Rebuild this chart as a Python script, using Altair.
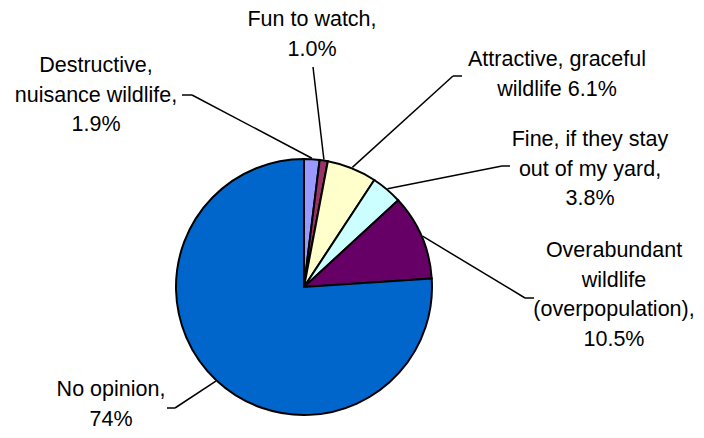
import altair as alt
import pandas as pd

# ---- data ----
categories = [
    "Destructive, nuisance wildlife",
    "Fun to watch",
    "Attractive, graceful wildlife",
    "Fine, if they stay out of my yard",
    "Overabundant wildlife (overpopulation)",
    "No opinion",
]
values = [1.9, 1.0, 6.1, 3.8, 10.5, 74.0]
labels = [
    "Destructive,\nnuisance wildlife,\n1.9%",
    "Fun to watch,\n1.0%",
    "Attractive, graceful\nwildlife 6.1%",
    "Fine, if they stay\nout of my yard,\n3.8%",
    "Overabundant\nwildlife\n(overpopulation),\n10.5%",
    "No opinion,\n74%",
]
colors = ["#9999FF", "#993366", "#FFFFCC", "#CCFFFF", "#660066", "#0066CC"]

# ---- layout (page pixel coordinates; label y = first line centre) ----
label_x = [96, 312, 557, 590, 614, 111]
label_y = [66, 20, 60, 140, 251, 390]
label_lh = 29.5
elbow_x = [192, 313, 453, 502, 525, 175]
elbow_y = [95, 67, 76, 166, 298, 408]
tick_x = [182, 313, 462, 510, 534, 167]
tick_y = [95, 67, 76, 166, 298, 408]
CX, CY, R = 304, 287, 128
W, H = 688, 422
M = 8

df = pd.DataFrame({
    "cat": categories, "value": values, "idx": list(range(len(values))),
    "label": labels, "lx": label_x, "ly": label_y,
    "ex": elbow_x, "ey": elbow_y, "tx": tick_x, "ty": tick_y,
})

xs = alt.Scale(domain=[M, M + W], range=[0, W])
ys = alt.Scale(domain=[M, M + H], range=[0, H])

pie = alt.Chart(df).mark_arc(stroke="black", strokeWidth=2).encode(
    theta=alt.Theta("value:Q", stack=True),
    color=alt.Color("cat:N", scale=alt.Scale(domain=categories, range=colors), legend=None),
    order=alt.Order("idx:Q", sort="ascending"),
    x=alt.value(CX - M), y=alt.value(CY - M), radius=alt.value(R),
)

base = alt.Chart(df).transform_joinaggregate(
    total="sum(value)"
).transform_window(
    cum="sum(value)", sort=[alt.SortField("idx", order="ascending")], frame=[None, 0]
).transform_calculate(
    mid="(datum.cum - datum.value/2) / datum.total * 2 * PI",
).transform_calculate(
    px=f"{CX} + {R + 1} * sin(datum.mid)",
    py=f"{CY} - {R + 1} * cos(datum.mid)",
)

lead1 = base.mark_rule(color="black", strokeWidth=1.5).encode(
    x=alt.X("px:Q", scale=xs, axis=None),
    y=alt.Y("py:Q", scale=ys, axis=None),
    x2="ex:Q", y2="ey:Q",
)
lead2 = base.mark_rule(color="black", strokeWidth=1.5).encode(
    x=alt.X("ex:Q", scale=xs, axis=None),
    y=alt.Y("ey:Q", scale=ys, axis=None),
    x2="tx:Q", y2="ty:Q",
)

text = alt.Chart(df).mark_text(
    font="Liberation Sans", fontSize=21.5, lineBreak="\n", lineHeight=label_lh,
    align="center", baseline="middle", color="black",
).encode(
    x=alt.X("lx:Q", scale=xs, axis=None),
    y=alt.Y("ly:Q", scale=ys, axis=None),
    text="label:N",
)

chart = alt.layer(pie, lead1, lead2, text).properties(
    width=W, height=H, padding=0, autosize=alt.AutoSizeParams(type="none"),
).configure_view(stroke=None)

chart.save("out.html", embed_options={"renderer": "svg", "actions": False})
